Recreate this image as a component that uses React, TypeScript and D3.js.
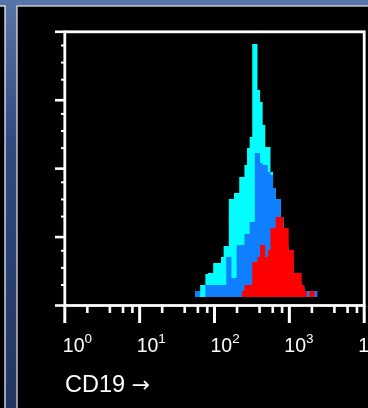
import React from 'react';
import * as d3 from 'd3';

const W = 368;
const H = 408;

// x axis: log10 decades
const DECADES = [0, 1, 2, 3, 4];
const MINOR_MULTS = [2, 4, 6, 8];
const BINS_PER_DECADE = 28.75; // 115 channels over 4 decades

// y axis ticks (arbitrary linear units, 4 major intervals)
const Y_MAJORS = [0, 1, 2, 3, 4];
const Y_MINOR_FRACS = [0.3, 0.55, 0.8];

// histogram counts (arbitrary units), one value per channel starting at *_START
const CYAN_START = 51;
const CYAN_COUNTS = [6, 12, 12, 23, 24, 24, 34, 34, 34, 40, 51, 51, 98, 98, 104, 104, 120, 120, 132, 149, 160, 253, 253, 207, 195, 172, 150, 150, 125, 109, 98, 98, 80, 60, 50, 40, 30, 24, 20, 14, 10, 6];

const BLUE_START = 50;
const BLUE_COUNTS = [6, 6, 0, 0, 12, 12, 12, 12, 12, 12, 12, 12, 40, 40, 19, 19, 52, 52, 52, 63, 63, 75, 75, 144, 144, 134, 132, 132, 125, 122, 109, 98, 98, 80, 60, 50, 40, 30, 20, 20, 15, 10, 6, 6, 6, 6, 6];

const RED_START = 68;
const RED_COUNTS = [6, 12, 12, 12, 35, 35, 40, 52, 52, 40, 47, 69, 69, 80, 80, 80, 69, 69, 47, 47, 24, 24, 24, 12, 6, 0, 6, 6];

const SERIES = [
  { name: 'cyan', start: CYAN_START, counts: CYAN_COUNTS, color: '#00ffff' },
  { name: 'blue', start: BLUE_START, counts: BLUE_COUNTS, color: '#0f7fff' },
  { name: 'red', start: RED_START, counts: RED_COUNTS, color: '#ff0000' },
];

const X_TITLE = 'CD19';
const X_TITLE_ARROW = '\u2192';

export default function App() {
  const plot = { left: 64.8, right: 364.2, top: 31.8, bottom: 305.5 };
  const x = d3.scaleLog().domain([1, 1e4]).range([plot.left, plot.right]);
  const yAxis = d3.scaleLinear().domain([0, 4]).range([plot.bottom, plot.top]);
  const yCount = d3.scaleLinear().domain([0, 264]).range([297, 33]);

  const binX = (i: number) => x(Math.pow(10, i / BINS_PER_DECADE));

  const areaGen = d3
    .area<[number, number]>()
    .x((d) => d[0])
    .y0(yCount(0))
    .y1((d) => d[1]);

  const paths = SERIES.map((s) => {
    const pts: [number, number][] = [];
    s.counts.forEach((c, k) => {
      const i = s.start + k;
      const yy = c > 0 ? yCount(c) : yCount(0);
      pts.push([binX(i), yy]);
      pts.push([binX(i + 1), yy]);
    });
    return { ...s, d: areaGen(pts) || '' };
  });

  const xMinor: number[] = [];
  for (let d = 0; d < 4; d++) MINOR_MULTS.forEach((m) => xMinor.push(m * Math.pow(10, d)));

  const yMinor: number[] = [];
  for (let d = 0; d < 4; d++) Y_MINOR_FRACS.forEach((f) => yMinor.push(d + f));

  const font = "'Liberation Sans', Arial, Helvetica, sans-serif";

  return (
    <div style={{ position: 'fixed', left: 0, top: 0, width: W, height: H }}>
      <svg width={W} height={H} style={{ display: 'block' }}>
        <defs>
          <linearGradient id="bg" x1="0" y1="0" x2="0" y2="1">
            <stop offset="0" stopColor="#5875aa" />
            <stop offset="0.35" stopColor="#2f4a80" />
            <stop offset="1" stopColor="#213661" />
          </linearGradient>
        </defs>
        <rect x={0} y={0} width={W} height={H} fill="url(#bg)" />
        {/* left neighbour panel */}
        <rect x={-2} y={6} width={7} height={H} fill="#000" stroke="#fff" strokeWidth={1.2} />
        {/* main panel */}
        <rect x={17} y={6} width={W} height={H} fill="#000" stroke="#e8e8e8" strokeWidth={1.2} />

        {/* histograms */}
        {paths.map((p) => (
          <path key={p.name} d={p.d} fill={p.color} />
        ))}

        {/* frame */}
        <rect
          x={plot.left}
          y={plot.top}
          width={plot.right - plot.left}
          height={plot.bottom - plot.top}
          fill="none"
          stroke="#fff"
          strokeWidth={2.8}
        />

        {/* y ticks */}
        {Y_MAJORS.map((v) => (
          <line key={'ym' + v} x1={55} x2={plot.left} y1={yAxis(v)} y2={yAxis(v)} stroke="#fff" strokeWidth={2.6} />
        ))}
        {yMinor.map((v, k) => (
          <line key={'yn' + k} x1={61} x2={plot.left} y1={yAxis(v)} y2={yAxis(v)} stroke="#fff" strokeWidth={2} />
        ))}

        {/* x ticks */}
        {DECADES.map((d) => (
          <line key={'xm' + d} x1={x(Math.pow(10, d))} x2={x(Math.pow(10, d))} y1={plot.bottom} y2={323} stroke="#fff" strokeWidth={3} />
        ))}
        {xMinor.map((v, k) => (
          <line key={'xn' + k} x1={x(v)} x2={x(v)} y1={plot.bottom} y2={313} stroke="#fff" strokeWidth={2.6} />
        ))}

        {/* x tick labels */}
        {DECADES.map((d) => (
          <text key={'xl' + d} x={x(Math.pow(10, d)) - 2 - d} y={352} fill="#fff" fontFamily={font} fontSize={19.5}>
            10
            <tspan fontSize={13.5} dy={-9}>
              {d}
            </tspan>
          </text>
        ))}

        <text x={65} y={391.5} fill="#fff" fontFamily={font} fontSize={23.5}>
          {X_TITLE}{' '}
          <tspan fontFamily="'DejaVu Sans', sans-serif" fontSize={22}>
            {X_TITLE_ARROW}
          </tspan>
        </text>
      </svg>
    </div>
  );
}
